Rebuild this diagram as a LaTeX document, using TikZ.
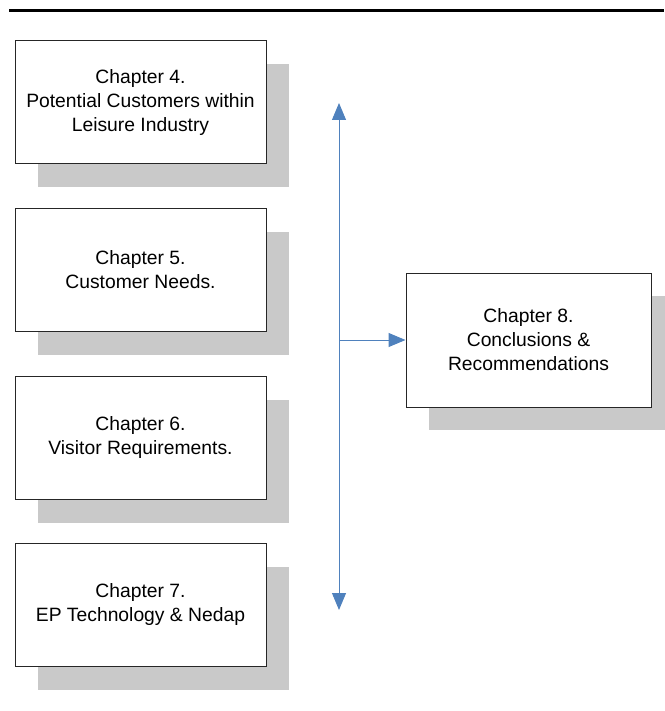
\documentclass[tikz,border=0pt]{standalone}
\usepackage{fontspec}
\setmainfont{Liberation Sans}
\usepackage{tikz}
\usetikzlibrary{arrows.meta,shadows}
\definecolor{linkblue}{RGB}{79,129,189}

\begin{document}
\begin{tikzpicture}[x=1pt,y=-1pt,>={Triangle[length=17pt,width=14pt]},
  chap/.style={draw=black!85,line width=1pt,fill=white,align=center,
    minimum width=251pt,minimum height=123pt,inner sep=0pt,
    font=\fontsize{19.3}{24}\selectfont,
    drop shadow={shadow xshift=23pt,shadow yshift=-23pt,fill=black!21,opacity=1}},
  link/.style={linkblue,line width=1pt}]
  \useasboundingbox (0,0) rectangle (664,711);
  \draw[line width=2.4pt] (9,10.5) -- (664,10.5);
  \node[chap] (c4) at (140.5,102.5) {Chapter 4.\\Potential Customers within\\Leisure Industry};
  \node[chap] (c5) at (140.5,270) {Chapter 5.\\Customer Needs.};
  \node[chap] (c6) at (140.5,438) {Chapter 6.\\Visitor Requirements.};
  \node[chap] (c7) at (140.5,605) {Chapter 7.\\EP Technology \& Nedap};
  \node[chap,minimum width=245pt,minimum height=134pt] (c8) at (528.5,340) {Chapter 8.\\Conclusions \&\\Recommendations};
  \coordinate (top) at (339,103);
  \coordinate (bot) at (339,610);
  \coordinate (mid) at (339,340);
  \draw[link,<->] (top) -- (bot);
  \draw[link,->] (mid) -- (c8.west);
\end{tikzpicture}
\end{document}
